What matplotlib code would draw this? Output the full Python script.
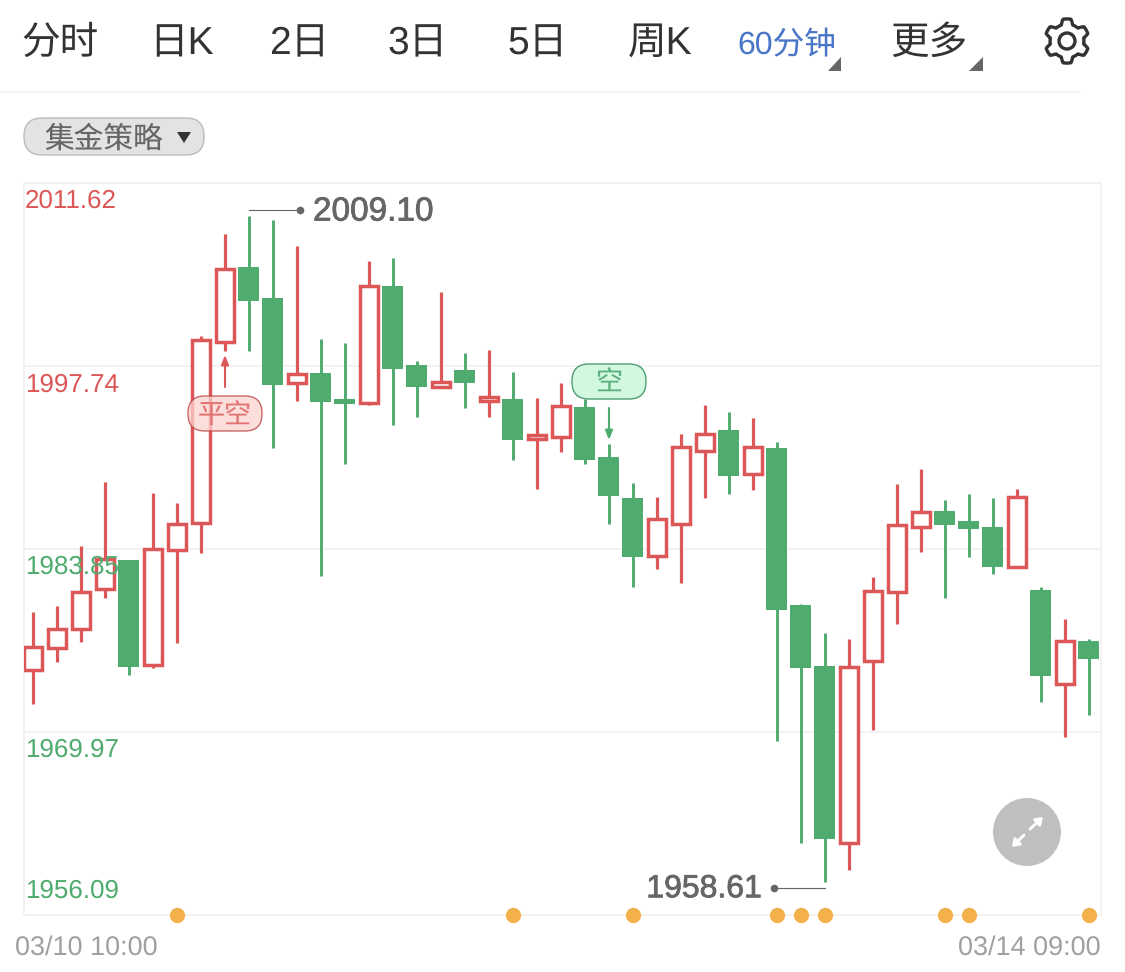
import numpy as np
import matplotlib
matplotlib.use("Agg")
import matplotlib.pyplot as plt
import matplotlib.patheffects as pe
from matplotlib.patches import FancyBboxPatch, Polygon, Circle

plt.rcParams['font.family'] = ['Liberation Sans', 'Noto Sans CJK SC', 'DejaVu Sans']
plt.rcParams['text.hinting'] = 'none'
plt.rcParams['text.hinting_factor'] = 1

# ===========================
# Data (60 min candles)
# ===========================
open_p = [1974.66, 1976.31, 1977.75, 1980.83, 1983.00, 1975.05, 1983.81, 1985.83, 1999.54,
          2005.26, 2002.93, 1996.43, 1997.21, 1995.26, 1994.93, 2003.83, 1997.84, 1996.14,
          1997.43, 1995.08, 1995.23, 1992.18, 1992.37, 1994.60, 1990.86, 1987.70, 1983.35,
          1985.73, 1991.31, 1992.91, 1989.54, 1991.52, 1979.61, 1975.00, 1961.53, 1975.36,
          1980.59, 1985.50, 1986.71, 1985.98, 1985.50, 1982.49, 1980.72, 1973.59, 1976.90]
close_p = [1976.44, 1977.79, 1980.62, 1983.10, 1974.93, 1983.88, 1985.77, 1999.69, 2005.08,
           2002.68, 1996.33, 1997.16, 1995.04, 1994.84, 2003.81, 1997.53, 1996.17, 1996.55,
           1996.45, 1995.39, 1992.15, 1992.48, 1994.70, 1990.61, 1987.90, 1983.22, 1986.13,
           1991.62, 1992.58, 1989.37, 1991.57, 1979.20, 1974.85, 1961.85, 1974.93, 1980.67,
           1985.68, 1986.66, 1985.65, 1985.35, 1982.51, 1987.82, 1974.20, 1976.90, 1975.53]
high_p = [1979.05, 1979.53, 1984.10, 1988.94, 1983.00, 1988.07, 1987.34, 2000.04, 2007.75,
          2009.10, 2008.81, 2006.84, 1999.82, 1999.51, 2005.73, 2005.91, 1998.14, 2003.37,
          1998.75, 1998.97, 1997.28, 1995.31, 1996.45, 1995.21, 1991.82, 1988.88, 1987.80,
          1992.56, 1994.80, 1994.22, 1993.79, 1991.95, 1979.71, 1977.50, 1977.00, 1981.75,
          1988.81, 1989.92, 1987.55, 1988.00, 1987.75, 1988.38, 1980.97, 1978.57, 1977.05]
low_p = [1972.13, 1975.26, 1976.83, 1980.15, 1974.27, 1974.79, 1976.70, 1983.55, 1998.88,
         1998.88, 1991.54, 1995.12, 1981.81, 1990.32, 1994.76, 1993.24, 1993.85, 1996.05,
         1994.53, 1993.85, 1990.63, 1988.38, 1991.24, 1990.33, 1985.73, 1980.95, 1982.34,
         1981.25, 1987.75, 1988.03, 1988.35, 1969.31, 1961.55, 1958.61, 1959.53, 1970.12,
         1978.14, 1983.65, 1980.14, 1983.22, 1981.94, 1982.44, 1972.27, 1969.57, 1971.26]

y_ticks = [1956.09, 1969.97, 1983.85, 1997.74, 2011.62]
signal_idx = [6, 20, 25, 31, 32, 33, 38, 39, 44]

tabs = ["分时", "日K", "2日", "3日", "5日", "周K", "60分钟", "更多"]
tab_x = [60, 182, 299, 418, 538, 660, 787, 929]

RED = "#dc5757"
GREEN = "#4fab6e"
GRID = "#f2f2f2"
ORANGE = "#f4b04a"

# ===========================
# Candle chart
# ===========================
fig = plt.figure(figsize=(11.25, 9.72), dpi=100, facecolor="white")
ax = fig.add_axes([24 / 1125, 57 / 972, 1077 / 1125, 732 / 972])

o = np.array(open_p)
c = np.array(close_p)
h = np.array(high_p)
l = np.array(low_p)
x = np.arange(len(o))
up = c >= o

ax.vlines(x[up], l[up], h[up], color=RED, linewidth=2.3, capstyle="butt", zorder=2)
ax.vlines(x[~up], l[~up], h[~up], color=GREEN, linewidth=2.1, capstyle="butt", zorder=2)
ax.bar(x[up], (c - o)[up], bottom=o[up], width=0.76, facecolor="white", edgecolor=RED,
       linewidth=2.5, zorder=3)
ax.bar(x[~up], (o - c)[~up], bottom=c[~up], width=0.875, color=GREEN, linewidth=0, zorder=3)

ax.plot(signal_idx, [y_ticks[0]] * len(signal_idx), "o", color=ORANGE, markersize=11,
        markeredgewidth=0, clip_on=False, zorder=5)

ax.set_xlim(-0.365, 44.51)
ax.set_ylim(y_ticks[0], y_ticks[-1])
ax.set_yticks(y_ticks)
ax.set_xticks([])
ax.tick_params(left=False, labelleft=False)
ax.grid(axis="y", color=GRID, linewidth=1.4)
ax.set_axisbelow(True)
for s in ax.spines.values():
    s.set_color(GRID)
    s.set_linewidth(1.4)

# ===========================
# Overlay in pixels (toolbar, labels, badges)
# ===========================
ui = fig.add_axes([0, 0, 1, 1], facecolor="none")
ui.set_xlim(0, 1125)
ui.set_ylim(972, 0)
ui.axis("off")

for name, tx in zip(tabs, tab_x):
    small = name == "60分钟"
    ui.text(tx, 46 if small else 44, name, ha="center", va="center",
            fontsize=22.8 if small else 27.8, color="#4a76c8" if small else "#333333")

ui.add_patch(Polygon([(841, 57), (841, 71), (828, 71)], color="#666666", linewidth=0))
ui.add_patch(Polygon([(983, 57), (983, 71), (969, 71)], color="#666666", linewidth=0))

# gear
ang = np.linspace(0, 2 * np.pi, 181)
rad = 19.5 + 2.6 * np.clip(2.2 * np.cos(6 * ang), -1, 1)
ui.add_patch(Polygon(np.c_[1067 + rad * np.sin(ang), 41 + rad * np.cos(ang)], closed=True,
                     facecolor="none", edgecolor="#333333", linewidth=2.4, joinstyle="round"))
ui.add_patch(Circle((1067, 41), 8, facecolor="none", edgecolor="#333333", linewidth=2.4))

ui.plot([0, 1080], [92, 92], color=GRID, linewidth=1.4)

# chip
ui.add_patch(FancyBboxPatch((24, 118), 180, 37, boxstyle="round,pad=0,rounding_size=18",
                            facecolor="#e3e3e3", edgecolor="#bbbbbb", linewidth=1))
ui.text(104, 140, "集金策略", ha="center", va="center", fontsize=21.4, color="#666666")
ui.add_patch(Polygon([(177, 132), (191, 132), (184, 143)], color="#333333", linewidth=0))

# y labels
y_labels = ["2011.62", "1997.74", "1983.85", "1969.97", "1956.09"]
y_label_pos = [201, 385, 567, 750, 891]
y_label_col = [RED, RED, GREEN, GREEN, GREEN]
for t, py, col in zip(y_labels, y_label_pos, y_label_col):
    ui.text(25, py, t, ha="left", va="center", fontsize=18.6, color=col)

# x labels
ui.text(15, 948, "03/10 10:00", ha="left", va="center", fontsize=19.3, color="#a0a0a0")
ui.text(1101, 948, "03/14 09:00", ha="right", va="center", fontsize=19.3, color="#a0a0a0")

# high / low callouts
stroke = [pe.withStroke(linewidth=0.6, foreground="#666666")]
ui.plot([249, 300], [210, 210], color="#666666", linewidth=0.8)
ui.plot([300], [210], "o", color="#666666", markersize=5.5, markeredgewidth=0)
ui.text(313, 212, "2009.10", ha="left", va="center", fontsize=24, color="#666666", path_effects=stroke)
ui.plot([774, 825], [888, 888], color="#666666", linewidth=0.8)
ui.plot([774], [888], "o", color="#666666", markersize=5.5, markeredgewidth=0)
ui.text(762, 889, "1958.61", ha="right", va="center", fontsize=23, color="#666666", path_effects=stroke)

# trade badges
ui.annotate("", xy=(225, 355), xytext=(225, 387),
            arrowprops=dict(arrowstyle="-|>,head_width=0.22,head_length=0.55", color=RED, lw=1.5,
                            shrinkA=0, shrinkB=0))
ui.add_patch(FancyBboxPatch((188, 396), 74, 35, boxstyle="round,pad=0,rounding_size=17",
                            facecolor="#fbd3d0", edgecolor="#b83a3a", linewidth=1, alpha=0.75))
ui.text(225, 417, "平空", ha="center", va="center", fontsize=19.5, color="#e27474")

ui.annotate("", xy=(609, 440), xytext=(609, 408),
            arrowprops=dict(arrowstyle="-|>,head_width=0.22,head_length=0.55", color=GREEN, lw=1.5,
                            shrinkA=0, shrinkB=0))
ui.add_patch(FancyBboxPatch((572, 364), 74, 35, boxstyle="round,pad=0,rounding_size=17",
                            facecolor="#d2f8e0", edgecolor="#4f9f72", linewidth=1))
ui.text(609, 384, "空", ha="center", va="center", fontsize=19.5, color="#5fb07f")

# expand button
ui.add_patch(Circle((1027, 832), 34, facecolor="#bfbfbf", edgecolor="none"))
for start, end in [((1030, 829), (1043, 817)), ((1024, 835), (1012, 847))]:
    ui.annotate("", xy=end, xytext=start,
                arrowprops=dict(arrowstyle="-|>,head_width=0.28,head_length=0.4", color="white", lw=2.0,
                                shrinkA=0, shrinkB=0))

fig.savefig("out.png", dpi=100)
